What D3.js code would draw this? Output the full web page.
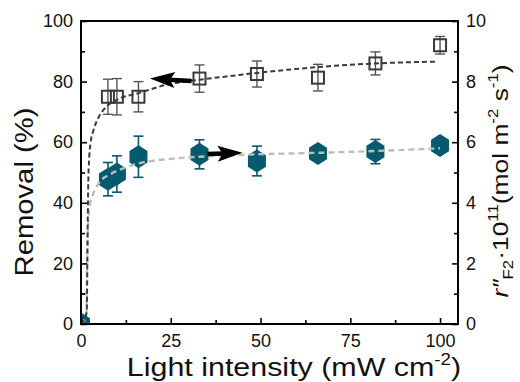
<!DOCTYPE html>
<html>
<head>
<meta charset="utf-8">
<script src="https://cdn.jsdelivr.net/npm/d3@7"></script>
<style>
  body { margin: 0; background: #fff; }
  text { font-family: "Liberation Sans", Arial, sans-serif; fill: #111; }
</style>
</head>
<body>
<svg id="chart" width="520" height="382"></svg>
<script>
// light intensity (mW cm-2)
const intensity = [0, 7.5, 10, 16, 33, 49, 66, 82, 100];
// removal (%) - open squares, left axis
const removal = [0, 75, 75, 75, 81, 82.5, 81.3, 86, 92];
const removalErr = [0, 5.8, 6, 5, 4.5, 4.3, 4.4, 3.8, 2.9];
// rate r''F2 x 1e11 (mol m-2 s-1) - teal hexagons, right axis
const rate = [0, 4.78, 4.95, 5.52, 5.6, 5.38, 5.63, 5.69, 5.89];
const rateErr = [1.0, 0.55, 0.6, 0.68, 0.48, 0.49, 0.15, 0.4, 0.15];

// fitted curves
const removalFitX = [0, 1.6, 1.8, 2.0, 2.3, 2.7, 3.5, 4.8, 6.5, 10, 16, 24, 33, 42, 50, 66, 82, 99];
const removalFitY = [0, 4, 25, 45, 55, 60, 64, 68, 71, 74, 76.2, 79, 80.6, 81.9, 83, 84.8, 86, 86.6];
const rateFitX = [0, 1.5, 1.7, 2.0, 2.4, 3.3, 5.3, 8, 12, 16, 25, 33, 49, 66, 82, 100];
const rateFitY = [0, 0.3, 2.0, 3.3, 3.9, 4.26, 4.7, 4.93, 5.15, 5.3, 5.45, 5.52, 5.6, 5.65, 5.71, 5.8];

// arrows (x, removal-axis value): tail -> tip
const arrowLeft = [[30.8, 80.2], [19.2, 81.0]];
const arrowRight = [[35.2, 56.1], [45.0, 56.5]];

const xTicks = [0, 25, 50, 75, 100];
const yLeftTicks = [0, 20, 40, 60, 80, 100];
const yRightTicks = [0, 2, 4, 6, 8, 10];

const W = 520, H = 382;
const margin = {top: 21, right: 62, bottom: 58, left: 81};
const svg = d3.select('#chart');

const x = d3.scaleLinear().domain([0, 105]).range([margin.left, W - margin.right]);
const yL = d3.scaleLinear().domain([0, 100]).range([H - margin.bottom, margin.top]);
const yR = d3.scaleLinear().domain([0, 10]).range([H - margin.bottom, margin.top]);

const teal = '#065a6e';
const dark = '#3a3a3a';

svg.append('clipPath').attr('id', 'plotclip')
  .append('rect')
  .attr('x', margin.left).attr('y', margin.top)
  .attr('width', W - margin.left - margin.right)
  .attr('height', H - margin.top - margin.bottom);

const plot = svg.append('g').attr('clip-path', 'url(#plotclip)');

// error bars
function errorBars(g, vals, errs, scale, color, width) {
  const cap = 5;
  const eb = g.selectAll(null).data(intensity).enter().append('g')
    .attr('stroke', color).attr('stroke-width', width).attr('fill', 'none');
  eb.append('line')
    .attr('x1', d => x(d)).attr('x2', d => x(d))
    .attr('y1', (d, i) => scale(vals[i] - errs[i]))
    .attr('y2', (d, i) => scale(vals[i] + errs[i]));
  eb.append('line')
    .attr('x1', d => x(d) - cap).attr('x2', d => x(d) + cap)
    .attr('y1', (d, i) => scale(vals[i] + errs[i]))
    .attr('y2', (d, i) => scale(vals[i] + errs[i]));
  eb.append('line')
    .attr('x1', d => x(d) - cap).attr('x2', d => x(d) + cap)
    .attr('y1', (d, i) => scale(vals[i] - errs[i]))
    .attr('y2', (d, i) => scale(vals[i] - errs[i]));
}
errorBars(plot, removal, removalErr, yL, '#555', 1.4);
errorBars(plot, rate, rateErr, yR, teal, 1.6);

// squares
const sq = 12;
plot.selectAll('rect.sq').data(intensity.slice(1)).enter().append('rect')
  .attr('class', 'sq')
  .attr('x', d => x(d) - sq / 2)
  .attr('y', (d, i) => yL(removal[i + 1]) - sq / 2)
  .attr('width', sq).attr('height', sq)
  .attr('fill', 'none').attr('stroke', dark).attr('stroke-width', 2);

// hexagons
const hw = 18, hh = 23;
const hex = `M0,${-hh/2}L${hw/2},${-hh/4}L${hw/2},${hh/4}L0,${hh/2}L${-hw/2},${hh/4}L${-hw/2},${-hh/4}Z`;
plot.selectAll('path.hex').data(intensity).enter().append('path')
  .attr('class', 'hex')
  .attr('d', hex)
  .attr('transform', (d, i) => `translate(${x(d)},${yR(rate[i])})`)
  .attr('fill', teal);

// fit curves on top
const line = d3.line().curve(d3.curveMonotoneX);
plot.append('path')
  .attr('d', line(rateFitX.map((d, i) => [x(d), yR(rateFitY[i])])))
  .attr('fill', 'none').attr('stroke', '#bdbdbd').attr('stroke-width', 2.4)
  .attr('stroke-dasharray', '6,4');
plot.append('path')
  .attr('d', line(removalFitX.map((d, i) => [x(d), yL(removalFitY[i])])))
  .attr('fill', 'none').attr('stroke', dark).attr('stroke-width', 2)
  .attr('stroke-dasharray', '5,3');

// arrows
function arrow(pts) {
  const [t, h] = pts.map(p => [x(p[0]), yL(p[1])]);
  const ang = Math.atan2(h[1] - t[1], h[0] - t[0]);
  const headLen = 25, headHalf = 8;
  const bx = h[0] - headLen * Math.cos(ang), by = h[1] - headLen * Math.sin(ang);
  const nx = -Math.sin(ang), ny = Math.cos(ang);
  svg.append('line')
    .attr('x1', t[0]).attr('y1', t[1]).attr('x2', bx + 6 * Math.cos(ang)).attr('y2', by + 6 * Math.sin(ang))
    .attr('stroke', '#000').attr('stroke-width', 4.5);
  svg.append('path')
    .attr('d', `M${h[0]},${h[1]}L${bx + nx * headHalf},${by + ny * headHalf}` +
      `L${bx + 5 * Math.cos(ang)},${by + 5 * Math.sin(ang)}L${bx - nx * headHalf},${by - ny * headHalf}Z`)
    .attr('fill', '#000');
}
arrow(arrowLeft);
arrow(arrowRight);

// axes
const axisG = svg.append('g').attr('class', 'axes');
function styleAxis(g) {
  g.select('.domain').remove();
  g.selectAll('.tick line').attr('stroke', '#000').attr('stroke-width', 1.6);
  g.selectAll('.tick text').attr('font-size', 18).attr('fill', '#111')
    .attr('font-family', '"Liberation Sans", Arial, sans-serif');
}
// minor ticks
const minorX = d3.range(12.5, 105, 25);
const minorY = d3.range(10, 100, 20);
const minorYR = d3.range(1, 10, 2);

axisG.append('g').attr('transform', `translate(0,${H - margin.bottom})`)
  .call(d3.axisBottom(x).tickValues(xTicks).tickSize(-6).tickPadding(10))
  .call(styleAxis);
axisG.append('g').attr('transform', `translate(0,${H - margin.bottom})`)
  .call(d3.axisBottom(x).tickValues(minorX).tickSize(-4).tickFormat(''))
  .call(styleAxis);
axisG.append('g').attr('transform', `translate(${margin.left},0)`)
  .call(d3.axisLeft(yL).tickValues(yLeftTicks).tickSize(-6).tickPadding(8))
  .call(styleAxis);
axisG.append('g').attr('transform', `translate(${margin.left},0)`)
  .call(d3.axisLeft(yL).tickValues(minorY).tickSize(-4).tickFormat(''))
  .call(styleAxis);
axisG.append('g').attr('transform', `translate(${W - margin.right},0)`)
  .call(d3.axisRight(yR).tickValues(yRightTicks).tickSize(-6).tickPadding(8))
  .call(styleAxis);
axisG.append('g').attr('transform', `translate(${W - margin.right},0)`)
  .call(d3.axisRight(yR).tickValues(minorYR).tickSize(-4).tickFormat(''))
  .call(styleAxis);

// frame
svg.append('rect')
  .attr('x', margin.left).attr('y', margin.top)
  .attr('width', W - margin.left - margin.right)
  .attr('height', H - margin.top - margin.bottom)
  .attr('fill', 'none').attr('stroke', '#000').attr('stroke-width', 2);

// axis titles (the source uses a wide face, so stretch along the text)
const xt = svg.append('text')
  .attr('transform', 'translate(294,376) scale(1.17,1)')
  .attr('text-anchor', 'middle').attr('font-size', 26);
xt.append('tspan').text('Light intensity (mW cm');
xt.append('tspan').attr('font-size', 16).attr('dy', -11).text('-2');
xt.append('tspan').attr('dy', 11).text(')');

svg.append('text')
  .attr('transform', 'translate(33,192) rotate(-90) scale(1.17,1)')
  .attr('text-anchor', 'middle').attr('font-size', 25)
  .text('Removal (%)');

const rt = svg.append('text')
  .attr('transform', 'translate(508,181) rotate(-90) scale(1.2,1)')
  .attr('text-anchor', 'middle').attr('font-size', 22);
rt.append('tspan').attr('font-style', 'italic').text('r\u2033');
rt.append('tspan').attr('font-size', 14).attr('dy', 5).text('F2');
rt.append('tspan').attr('dy', -5).text('\u00b710');
rt.append('tspan').attr('font-size', 14).attr('dy', -10).text('11');
rt.append('tspan').attr('dy', 10).text('(mol m');
rt.append('tspan').attr('font-size', 14).attr('dy', -10).text('-2');
rt.append('tspan').attr('dy', 10).text(' s');
rt.append('tspan').attr('font-size', 14).attr('dy', -10).text('-1');
rt.append('tspan').attr('dy', 10).text(')');
</script>
</body>
</html>
